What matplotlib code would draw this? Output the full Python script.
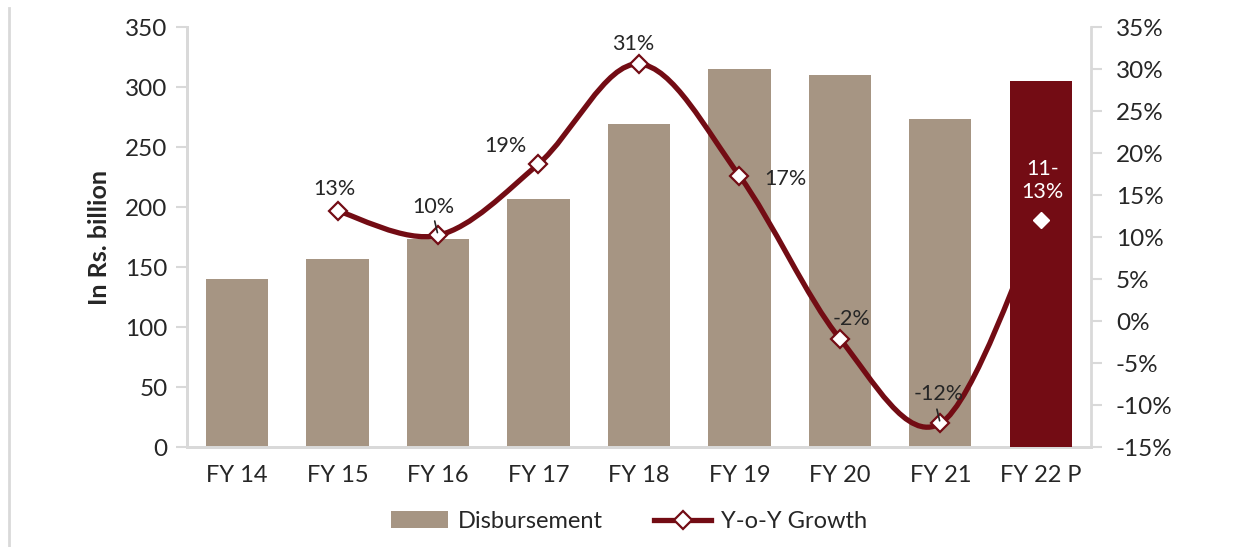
import matplotlib.pyplot as plt
import numpy as np
from matplotlib.path import Path
from matplotlib.patches import PathPatch, Patch
from matplotlib.lines import Line2D
from matplotlib.ticker import FuncFormatter

# Data
years = ['FY 14', 'FY 15', 'FY 16', 'FY 17', 'FY 18', 'FY 19', 'FY 20', 'FY 21', 'FY 22 P']
disbursement = [140, 157, 173, 207, 269, 315, 310, 273, 305]
growth = [13.1, 10.2, 18.7, 30.6, 17.3, -2.1, -12.2, 12.0]   # FY15 .. FY22 P
growth_labels = ['13%', '10%', '19%', '31%', '17%', '-2%', '-12%', '11-\n13%']

TAN = '#A69583'
RED = '#730C14'
GRAY = '#D9D9D9'
TXT = '#262626'

plt.rcParams['font.family'] = ['Lato', 'DejaVu Sans']

fig = plt.figure(figsize=(12.58, 5.47), dpi=100)
ax = fig.add_axes([0.1486, 0.1828, 0.7186, 0.7678])
ax2 = ax.twinx()

x = np.arange(len(years))
xg = x[1:]
bw = 0.62

# bars FY14..FY21 on the primary axis
ax.bar(x[:-1], disbursement[:-1], width=bw, color=TAN, zorder=2)

# smoothed growth line (Catmull-Rom style Bezier through the points, like Excel)
pts = np.column_stack([xg, growth])
verts = [tuple(pts[0])]
codes = [Path.MOVETO]
n = len(pts)
for i in range(n - 1):
    p0 = pts[i - 1] if i > 0 else pts[i]
    p1, p2 = pts[i], pts[i + 1]
    p3 = pts[i + 2] if i + 2 < n else pts[i + 1]
    c1 = p1 + (p2 - p0) / 6
    c2 = p2 - (p3 - p1) / 6
    verts += [tuple(c1), tuple(c2), tuple(p2)]
    codes += [Path.CURVE4] * 3
ax2.add_patch(PathPatch(Path(verts, codes), fill=False, edgecolor=RED, lw=3.8,
                        capstyle='round', zorder=3))
ax2.plot(xg[:-1], growth[:-1], ls='none', marker='D', ms=9.5, mfc='white',
         mec=RED, mew=1.6, zorder=4)

# FY22 P bar drawn above the line, in the primary axis' units
ax2.bar(x[-1], disbursement[-1], width=bw, color=RED, zorder=5, transform=ax.transData)
ax2.plot(xg[-1], growth[-1], ls='none', marker='D', ms=8, mfc='white', mec='white',
         zorder=6)

# data labels (offsets in pixels)
offsets = [(-3, 22), (-5, 28), (-33, 18), (-6, 20), (46, -3), (12, 20), (-2, 29), (2, 40)]
for xi, yi, lab, (dx, dy) in zip(xg, growth, growth_labels, offsets):
    col = 'white' if '\n' in lab else TXT
    ax2.annotate(lab, (xi, yi), xytext=(dx, dy), textcoords='offset pixels',
                 ha='center', va='center', fontsize=15.5, color=col, zorder=7,
                 linespacing=1.2)
# leader lines for 10% and -12%
for xi, yi in [(xg[1], growth[1]), (xg[6], growth[6])]:
    ax2.annotate('', (xi, yi), xytext=(-4, 17), textcoords='offset pixels',
                 arrowprops=dict(arrowstyle='-', color=TXT, lw=1.2), zorder=7)

ax.set_xlim(-0.5, len(years) - 0.5)
ax.set_ylim(0, 350)
ax.set_yticks(np.arange(0, 351, 50))
ax2.set_ylim(-15, 35)
ax2.set_yticks(np.arange(-15, 36, 5))
ax2.yaxis.set_major_formatter(FuncFormatter(lambda v, p: f'{v:.0f}%'))

ax.set_xticks(x)
ax.set_xticklabels(years)
ax.tick_params(axis='x', length=0, pad=13, labelsize=17, labelcolor=TXT)
ax.tick_params(axis='y', length=8, width=1.5, color=GRAY, pad=6, labelsize=17.5,
               labelcolor=TXT)
ax2.tick_params(axis='y', length=8, width=1.5, color=GRAY, pad=10, labelsize=17.5,
                labelcolor=TXT)

for a in (ax, ax2):
    for s in a.spines.values():
        s.set_color(GRAY)
        s.set_linewidth(2)
    a.spines['top'].set_visible(False)
ax.spines['right'].set_visible(False)

ax.set_ylabel('In Rs. billion', fontsize=18, fontweight='bold', color=TXT, labelpad=10)

handles = [Patch(facecolor=TAN, edgecolor='none'),
           Line2D([0], [0], color=RED, lw=3.8, marker='D', ms=9.5, mfc='white',
                  mec=RED, mew=1.6)]
fig.legend(handles, ['Disbursement', 'Y-o-Y Growth'], loc='center',
           bbox_to_anchor=(0.5, 0.047), ncol=2, frameon=False, fontsize=17,
           handlelength=2.4, handletextpad=0.4, columnspacing=2.2, labelcolor=TXT)

# thin frame line at the left edge of the picture
fig.add_artist(Line2D([0.0075, 0.0075], [0, 0.985], color=GRAY, lw=2))

fig.savefig('out.png', dpi=100)
